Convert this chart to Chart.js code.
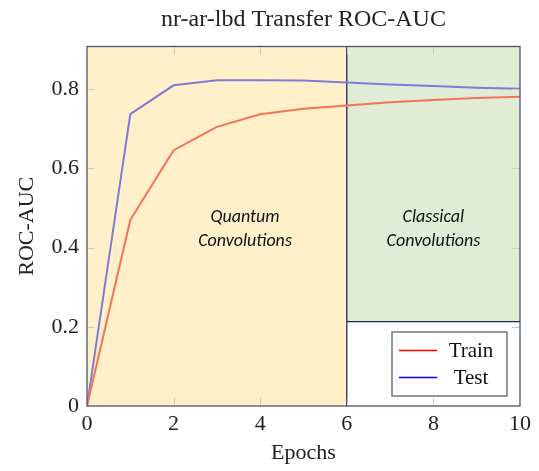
<!DOCTYPE html>
<html>
<head>
<meta charset="utf-8">
<script src="https://cdn.jsdelivr.net/npm/chart.js@4.4.0/dist/chart.umd.min.js"></script>
<style>
  html, body { margin: 0; padding: 0; background: #fff; }
  #wrap { width: 539px; height: 471px; }
</style>
</head>
<body>
<div id="wrap"><canvas id="roc"></canvas></div>
<script>
// Data
const epochs = [0, 1, 2, 3, 4, 5, 6, 7, 8, 9, 10];
const trainAuc = [0, 0.470, 0.646, 0.705, 0.737, 0.751, 0.759, 0.767, 0.773, 0.778, 0.781];
const testAuc = [0, 0.737, 0.810, 0.823, 0.823, 0.822, 0.817, 0.812, 0.808, 0.804, 0.801];
const xTicks = [0, 2, 4, 6, 8, 10];
const yTicks = [0, 0.2, 0.4, 0.6, 0.8];
const chartTitle = 'nr-ar-lbd Transfer ROC-AUC';

// shaded regions
const quantumRegion = { x0: 0, x1: 6, y0: 0, color: '#fff0c9', text: ['Quantum', 'Convolutions'], tx: 3.65 };
const classicalRegion = { x0: 6, x1: 10, y0: 0.213, color: '#e1ecd6', text: ['Classical', 'Convolutions'], tx: 8.0 };
const labelY = [0.475, 0.416];

const serif = "'Liberation Serif', 'DejaVu Serif', serif";
Chart.defaults.font.family = serif;
Chart.defaults.color = '#222';

// Background areas, labels, frame, inner ticks, legend and title
const regionPlugin = {
    id: 'regions',
    beforeDatasetsDraw(chart) {
        const { ctx, chartArea, scales: { x, y } } = chart;
        ctx.save();
        [quantumRegion, classicalRegion].forEach(r => {
            const left = x.getPixelForValue(r.x0);
            const right = x.getPixelForValue(r.x1);
            const bottom = y.getPixelForValue(r.y0);
            ctx.fillStyle = r.color;
            ctx.fillRect(left, chartArea.top, right - left, bottom - chartArea.top);
        });
        // classical box outline + divider
        ctx.strokeStyle = '#1f2b4d';
        ctx.lineWidth = 1.3;
        const cx0 = x.getPixelForValue(classicalRegion.x0);
        const cy0 = y.getPixelForValue(classicalRegion.y0);
        ctx.beginPath();
        ctx.moveTo(cx0, chartArea.bottom);
        ctx.lineTo(cx0, chartArea.top);
        ctx.moveTo(cx0, cy0);
        ctx.lineTo(chartArea.right, cy0);
        ctx.stroke();

        ctx.fillStyle = '#111';
        ctx.font = "italic 18px Carlito, Lato, 'Open Sans', sans-serif";
        ctx.textAlign = 'center';
        ctx.textBaseline = 'middle';
        [quantumRegion, classicalRegion].forEach(r => {
            r.text.forEach((t, i) => {
                ctx.fillText(t, x.getPixelForValue(r.tx), y.getPixelForValue(labelY[i]));
            });
        });
        ctx.restore();
    },
    afterDraw(chart) {
        const { ctx, chartArea, scales: { x, y } } = chart;
        ctx.save();
        // title, centred over the plot area
        ctx.fillStyle = '#222';
        ctx.font = '24px ' + serif;
        ctx.textAlign = 'center';
        ctx.textBaseline = 'middle';
        ctx.fillText(chartTitle, (chartArea.left + chartArea.right) / 2, 19.5);

        // inner tick marks on all four sides
        ctx.strokeStyle = '#c8c8c8';
        ctx.lineWidth = 1;
        const tl = 8;
        ctx.beginPath();
        xTicks.slice(1, -1).forEach(v => {
            const px = Math.round(x.getPixelForValue(v)) + 0.5;
            ctx.moveTo(px, chartArea.bottom); ctx.lineTo(px, chartArea.bottom - tl);
            ctx.moveTo(px, chartArea.top); ctx.lineTo(px, chartArea.top + tl);
        });
        yTicks.slice(1).forEach(v => {
            const py = Math.round(y.getPixelForValue(v)) + 0.5;
            ctx.moveTo(chartArea.left, py); ctx.lineTo(chartArea.left + tl, py);
            ctx.moveTo(chartArea.right, py); ctx.lineTo(chartArea.right - tl, py);
        });
        ctx.stroke();

        // frame
        ctx.strokeStyle = '#4b5468';
        ctx.lineWidth = 1.3;
        ctx.strokeRect(chartArea.left, chartArea.top, chartArea.right - chartArea.left, chartArea.bottom - chartArea.top);

        // legend box (bottom right, inside the plot)
        const w = 115, h = 64;
        const bx = chartArea.right - 13 - w;
        const by = chartArea.bottom - 10 - h;
        ctx.fillStyle = '#fff';
        ctx.fillRect(bx, by, w, h);
        ctx.strokeStyle = '#555';
        ctx.lineWidth = 1.2;
        ctx.strokeRect(bx, by, w, h);
        const items = [
            { label: chart.data.datasets[0].label, color: '#ff0000' },
            { label: chart.data.datasets[1].label, color: '#0000ff' }
        ];
        ctx.font = '21px ' + serif;
        items.forEach((it, i) => {
            const ly = by + 18.5 + i * 27;
            ctx.strokeStyle = it.color;
            ctx.lineWidth = 1.5;
            ctx.beginPath();
            ctx.moveTo(bx + 7, ly);
            ctx.lineTo(bx + 45, ly);
            ctx.stroke();
            ctx.fillStyle = '#111';
            ctx.fillText(it.label, bx + 79, ly + 1);
        });
        ctx.restore();
    }
};

new Chart(document.getElementById('roc'), {
    type: 'line',
    data: {
        labels: epochs,
        datasets: [
            {
                label: 'Train',
                data: epochs.map((e, i) => ({ x: e, y: trainAuc[i] })),
                borderColor: 'rgb(244,116,90)',
                borderWidth: 2,
                pointRadius: 0,
                tension: 0
            },
            {
                label: 'Test',
                data: epochs.map((e, i) => ({ x: e, y: testAuc[i] })),
                borderColor: 'rgb(124,124,214)',
                borderWidth: 2,
                pointRadius: 0,
                tension: 0
            }
        ]
    },
    options: {
        responsive: true,
        maintainAspectRatio: false,
        animation: false,
        layout: { padding: { left: 0, right: 19, top: 46.5, bottom: 0 } },
        plugins: {
            legend: { display: false },
            tooltip: { enabled: false },
            title: { display: false }
        },
        scales: {
            x: {
                type: 'linear',
                min: 0,
                max: 10,
                afterBuildTicks: s => { s.ticks = xTicks.map(v => ({ value: v })); },
                afterFit: s => { s.height = 65; },
                grid: { drawOnChartArea: false, drawTicks: false },
                border: { display: false },
                ticks: { font: { size: 22 }, padding: 5, color: '#222', maxRotation: 0 },
                title: { display: true, text: 'Epochs', font: { size: 22 }, color: '#222', padding: { top: 0, bottom: 5 } }
            },
            y: {
                min: 0,
                max: 0.908,
                afterBuildTicks: s => { s.ticks = yTicks.map(v => ({ value: v })); },
                afterFit: s => { s.width = 87; },
                grid: { drawOnChartArea: false, drawTicks: false },
                border: { display: false },
                ticks: {
                    font: { size: 22 },
                    padding: 8,
                    color: '#222',
                    callback: v => (v === 0 ? '0' : v.toFixed(1))
                },
                title: { display: true, text: 'ROC-AUC', font: { size: 22 }, color: '#222', padding: { top: 14, bottom: 0 } }
            }
        }
    },
    plugins: [regionPlugin]
});
</script>
</body>
</html>
